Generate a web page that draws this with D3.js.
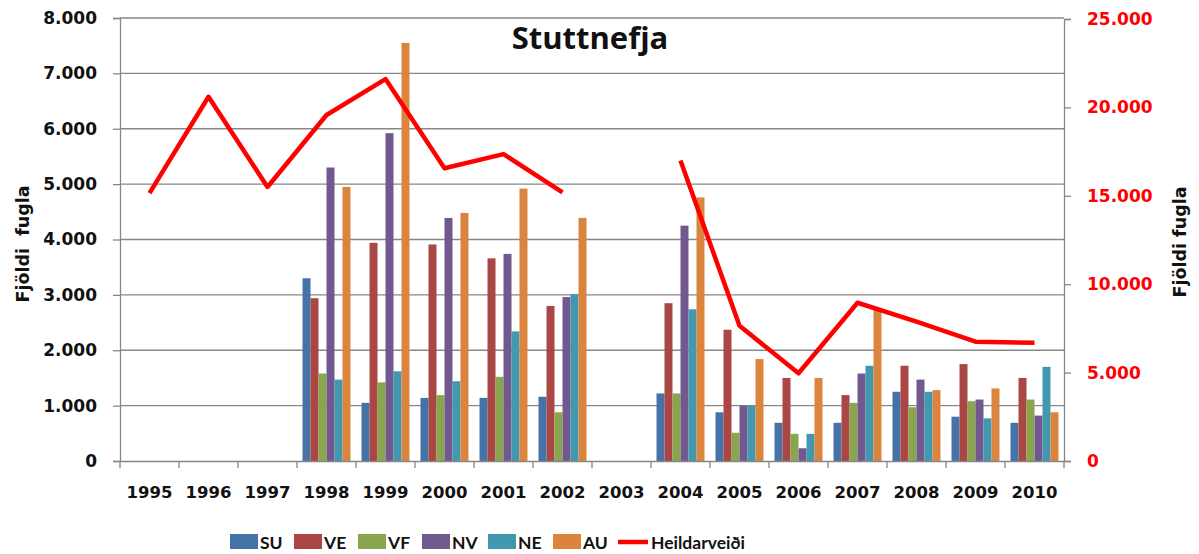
<!DOCTYPE html>
<html>
<head>
<meta charset="utf-8">
<script src="https://cdn.jsdelivr.net/npm/d3@7"></script>
<style>
  body { margin: 0; background: #fff; }
  text { font-weight: bold; }
</style>
</head>
<body>
<svg width="1199" height="554"></svg>
<script>
const years = ["1995","1996","1997","1998","1999","2000","2001","2002","2003","2004","2005","2006","2007","2008","2009","2010"];
const seriesNames = ["SU","VE","VF","NV","NE","AU"];
const colors = ["#4572A7","#AA4643","#89A54E","#71588F","#4198AF","#DB843D"];

// bar values per series, one per year (null = no data)
const SU = [null,null,null,3300,1050,1140,1140,1160,null,1220,880,690,690,1250,800,690];
const VE = [null,null,null,2940,3940,3910,3660,2800,null,2850,2370,1500,1190,1720,1750,1500];
const VF = [null,null,null,1580,1420,1190,1520,880,null,1220,510,490,1050,970,1080,1110];
const NV = [null,null,null,5300,5920,4390,3740,2960,null,4250,1000,230,1580,1470,1110,820];
const NE = [null,null,null,1470,1620,1440,2340,3010,null,2740,1000,490,1720,1250,770,1700];
const AU = [null,null,null,4950,7550,4480,4920,4390,null,4760,1840,1500,2740,1280,1310,880];
const series = [SU, VE, VF, NV, NE, AU];

// total catch (right axis)
const heildarveidi = [15150,20600,15500,19570,21600,16560,17360,15200,null,16990,7650,4960,8950,7880,6750,6690];

const leftTicks = [0,1000,2000,3000,4000,5000,6000,7000,8000];
const rightTicks = [0,5000,10000,15000,20000,25000];

const fmt = v => v === 0 ? "0" : d3.format(",")(v).replace(/,/g, ".");

const svg = d3.select("svg");
const plotLeft = 120, plotRight = 1064, plotTop = 18, plotBottom = 461;
const axisGrey = "#878787";
const tickFont = "'DejaVu Sans', sans-serif";
const legendFont = "Lato, sans-serif";

const x = d3.scaleBand().domain(years).range([plotLeft, plotRight]);
const xs = d3.scaleBand().domain(seriesNames).range([0, x.bandwidth()]).paddingInner(0).paddingOuter(0.69);
const y = d3.scaleLinear().domain([0, 8000]).range([plotBottom, plotTop]);
const y2 = d3.scaleLinear().domain([0, 25000]).range([plotBottom, plotTop + 1]);

// gridlines
svg.append("g")
  .selectAll("line")
  .data(leftTicks.slice(1))
  .join("line")
  .attr("x1", plotLeft).attr("x2", plotRight)
  .attr("y1", d => y(d)).attr("y2", d => y(d))
  .attr("stroke", axisGrey).attr("stroke-width", 1.3);

// bars
const g = svg.append("g");
series.forEach((vals, si) => {
  g.append("g")
    .selectAll("rect")
    .data(years.map((yr, i) => ({ yr, v: vals[i] })).filter(d => d.v != null))
    .join("rect")
    .attr("x", d => x(d.yr) + xs(seriesNames[si]))
    .attr("width", xs.bandwidth())
    .attr("y", d => y(d.v))
    .attr("height", d => y(0) - y(d.v))
    .attr("fill", colors[si]);
});

// left axis
const axL = svg.append("g")
  .attr("transform", `translate(${plotLeft},0)`)
  .call(d3.axisLeft(y).tickValues(leftTicks).tickFormat(fmt).tickSize(7).tickPadding(16));
axL.selectAll("line, path").attr("stroke", axisGrey).attr("stroke-width", 1.3);
axL.selectAll("text").style("font-family", tickFont).style("font-size", "17px").attr("fill", "#111");

// right axis
const axR = svg.append("g")
  .attr("transform", `translate(${plotRight},0)`)
  .call(d3.axisRight(y2).tickValues(rightTicks).tickFormat(fmt).tickSize(7).tickPadding(16));
axR.selectAll("line, path").attr("stroke", axisGrey).attr("stroke-width", 1.3);
axR.selectAll("text").style("font-family", tickFont).style("font-size", "17px").attr("fill", "#ff0000");

// x axis
const axX = svg.append("g")
  .attr("transform", `translate(0,${plotBottom})`)
  .call(d3.axisBottom(x).tickSize(0).tickPadding(25));
axX.select("path").attr("stroke", axisGrey).attr("stroke-width", 1.3);
axX.selectAll("text").style("font-family", tickFont).style("font-size", "16.5px").attr("fill", "#111");
svg.append("g")
  .selectAll("line")
  .data(d3.range(years.length + 1))
  .join("line")
  .attr("x1", i => plotLeft + i * x.step()).attr("x2", i => plotLeft + i * x.step())
  .attr("y1", plotBottom).attr("y2", plotBottom + 7)
  .attr("stroke", axisGrey).attr("stroke-width", 1.3);

// total line
const line = d3.line()
  .defined(d => d.v != null)
  .x(d => x(d.yr) + x.bandwidth() / 2)
  .y(d => y2(d.v));
svg.append("path")
  .datum(years.map((yr, i) => ({ yr, v: heildarveidi[i] })))
  .attr("d", line)
  .attr("fill", "none")
  .attr("stroke", "#ff0000")
  .attr("stroke-width", 4.5)
  .attr("stroke-linejoin", "round");

// titles
svg.append("text")
  .attr("x", 590).attr("y", 49)
  .attr("text-anchor", "middle")
  .style("font-family", "'Open Sans', sans-serif")
  .style("font-size", "31px")
  .attr("fill", "#111")
  .text("Stuttnefja");

svg.append("text")
  .attr("transform", "translate(29,244) rotate(-90)")
  .attr("text-anchor", "middle")
  .style("font-family", tickFont)
  .style("font-size", "17.5px")
  .style("white-space", "pre")
  .attr("fill", "#111")
  .text("Fjöldi  fugla");

svg.append("text")
  .attr("transform", "translate(1186,242) rotate(-90)")
  .attr("text-anchor", "middle")
  .style("font-family", tickFont)
  .style("font-size", "17.5px")
  .attr("fill", "#111")
  .text("Fjöldi fugla");

// legend
const legendX = [230, 294, 358, 422, 488, 553];
const leg = svg.append("g");
seriesNames.forEach((name, i) => {
  leg.append("rect")
    .attr("x", legendX[i]).attr("y", 534)
    .attr("width", 28).attr("height", 15)
    .attr("fill", colors[i]);
  leg.append("text")
    .attr("x", legendX[i] + 30).attr("y", 549)
    .style("font-family", legendFont)
    .style("font-size", "17.5px")
    .attr("fill", "#111")
    .text(name);
});
leg.append("line")
  .attr("x1", 618).attr("x2", 648)
  .attr("y1", 542).attr("y2", 542)
  .attr("stroke", "#ff0000").attr("stroke-width", 4.5);
leg.append("text")
  .attr("x", 651).attr("y", 549)
  .style("font-family", legendFont)
  .style("font-size", "17.5px")
  .attr("fill", "#111")
  .text("Heildarveiði");
</script>
</body>
</html>
